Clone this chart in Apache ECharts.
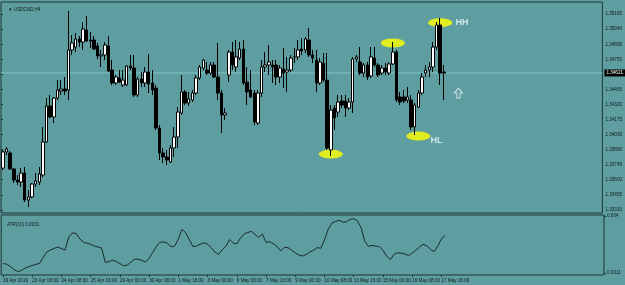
<!DOCTYPE html>
<html><head><meta charset="utf-8">
<script src="https://cdn.jsdelivr.net/npm/echarts@6/dist/echarts.min.js"></script>
<style>html,body{margin:0;padding:0;background:#5f9ea0;}#c{width:625px;height:285px;}</style>
</head><body><div id="c"></div>
<script>
const opens = [1.33711,1.33865,1.33855,1.33702,1.33596,1.33577,1.33663,1.33405,1.33434,1.33558,
1.33577,1.33644,1.33960,1.34305,1.34200,1.34381,1.34448,1.34467,1.34458,1.34841,
1.34869,1.34946,1.34917,1.35032,1.34936,1.34936,1.34879,1.34783,1.34793,1.34879,
1.34649,1.34525,1.34573,1.34506,1.34506,1.34687,1.34668,1.34410,1.34563,1.34525,
1.34630,1.34525,1.34477,1.34094,1.33855,1.33817,1.33769,1.33903,1.34008,1.34238,
1.34439,1.34333,1.34362,1.34429,1.34573,1.34668,1.34649,1.34620,1.34697,1.34582,
1.34429,1.34219,1.34601,1.34821,1.34678,1.34764,1.34850,1.34534,1.34458,1.34429,
1.34142,1.34429,1.34678,1.34697,1.34697,1.34697,1.34582,1.34659,1.34630,1.34649,
1.34774,1.34774,1.34850,1.34841,1.34936,1.34793,1.34745,1.34525,1.34716,1.34553,
1.33884,1.34285,1.34247,1.34353,1.34353,1.34285,1.34343,1.34754,1.34726,1.34620,
1.34697,1.34592,1.34764,1.34697,1.34620,1.34668,1.34620,1.34707,1.34821,1.34391,
1.34391,1.34362,1.34362,1.34104,1.34295,1.34429,1.34620,1.34649,1.34678,1.34869,
1.35080,1.34630];
const closes = [1.33865,1.33893,1.33702,1.33596,1.33577,1.33663,1.33405,1.33434,1.33558,1.33587,
1.33654,1.33960,1.34305,1.34200,1.34381,1.34458,1.34467,1.34448,1.34841,1.34908,
1.34946,1.34917,1.35041,1.34927,1.34927,1.34850,1.34783,1.34793,1.34888,1.34640,
1.34525,1.34582,1.34534,1.34553,1.34687,1.34668,1.34410,1.34563,1.34525,1.34630,
1.34515,1.34458,1.34094,1.33855,1.33817,1.33788,1.33903,1.34008,1.34247,1.34439,
1.34333,1.34372,1.34429,1.34573,1.34678,1.34745,1.34620,1.34697,1.34582,1.34429,
1.34219,1.34238,1.34821,1.34697,1.34774,1.34850,1.34525,1.34439,1.34391,1.34152,
1.34429,1.34678,1.34697,1.34726,1.34678,1.34582,1.34668,1.34620,1.34649,1.34764,
1.34776,1.34841,1.34831,1.34946,1.34793,1.34764,1.34525,1.34726,1.34553,1.33903,
1.34266,1.34190,1.34343,1.34314,1.34285,1.34343,1.34754,1.34774,1.34620,1.34697,
1.34582,1.34774,1.34697,1.34601,1.34668,1.34630,1.34707,1.34821,1.34362,1.34343,
1.34353,1.34391,1.34104,1.34314,1.34429,1.34582,1.34649,1.34678,1.34869,1.35080,
1.34620,1.34621];
const highs = [1.33884,1.33912,1.33874,1.33711,1.33644,1.33711,1.33721,1.33501,1.33568,1.33663,
1.33721,1.34104,1.34381,1.34410,1.34391,1.34553,1.34553,1.34582,1.35214,1.34984,
1.35003,1.34974,1.35108,1.35166,1.35013,1.34974,1.34908,1.34841,1.34917,1.34974,
1.34745,1.34601,1.34649,1.34649,1.34697,1.34793,1.34793,1.34582,1.34630,1.34678,
1.34802,1.34649,1.34506,1.34123,1.33903,1.33884,1.33931,1.34104,1.34295,1.34601,
1.34458,1.34439,1.34458,1.34601,1.34697,1.34754,1.34726,1.34726,1.34726,1.34908,
1.34458,1.34285,1.34841,1.34917,1.34936,1.34917,1.34936,1.34678,1.34649,1.34458,
1.34458,1.34745,1.34821,1.34888,1.34745,1.34745,1.34697,1.34860,1.34774,1.34793,
1.34860,1.34936,1.34955,1.34965,1.35051,1.34841,1.34841,1.34764,1.34812,1.34812,
1.34314,1.34314,1.34410,1.34410,1.34410,1.34381,1.34774,1.34793,1.34869,1.34716,
1.34726,1.34869,1.34869,1.34716,1.34697,1.34716,1.34726,1.34917,1.34841,1.34439,
1.34458,1.34486,1.34410,1.34333,1.34458,1.34620,1.34697,1.34726,1.34917,1.35108,
1.35147,1.34697];
const lows = [1.33692,1.33836,1.33692,1.33568,1.33549,1.33529,1.33386,1.33338,1.33424,1.33529,
1.33549,1.33625,1.33951,1.34190,1.34142,1.34362,1.34410,1.34410,1.34362,1.34793,
1.34821,1.34869,1.34841,1.34917,1.34860,1.34841,1.34754,1.34678,1.34745,1.34630,
1.34506,1.34506,1.34525,1.34486,1.34496,1.34649,1.34391,1.34391,1.34486,1.34486,
1.34429,1.34410,1.34075,1.33788,1.33759,1.33740,1.33759,1.33817,1.33903,1.34219,
1.34314,1.34305,1.34343,1.34410,1.34553,1.34649,1.34601,1.34601,1.34573,1.34362,
1.34046,1.34171,1.34534,1.34649,1.34630,1.34745,1.34506,1.34314,1.34381,1.34123,
1.34123,1.34391,1.34630,1.34601,1.34525,1.34506,1.34525,1.34477,1.34439,1.34630,
1.34716,1.34745,1.34793,1.34812,1.34774,1.34716,1.34439,1.34506,1.34534,1.33884,
1.33826,1.34075,1.34200,1.34285,1.34200,1.34266,1.34238,1.34726,1.34601,1.34582,
1.34553,1.34573,1.34678,1.34582,1.34601,1.34601,1.34601,1.34697,1.34343,1.34314,
1.34333,1.34333,1.34075,1.34027,1.34285,1.34410,1.34582,1.34582,1.34630,1.34841,
1.34506,1.34362];
const atr = [0.00158,0.00155,0.00143,0.00128,0.00117,0.00122,0.00134,0.00142,0.00148,0.00154,
0.00159,0.00189,0.00217,0.00227,0.00235,0.00242,0.00234,0.00227,0.00293,0.00314,
0.00311,0.00284,0.00267,0.00261,0.00257,0.00247,0.00242,0.00236,0.00164,0.00168,
0.00175,0.00168,0.00158,0.00146,0.00150,0.00165,0.00180,0.00180,0.00174,0.00166,
0.00184,0.00215,0.00246,0.00267,0.00268,0.00262,0.00243,0.00247,0.00283,0.00332,
0.00315,0.00280,0.00244,0.00247,0.00257,0.00264,0.00256,0.00239,0.00217,0.00204,
0.00228,0.00245,0.00280,0.00263,0.00258,0.00287,0.00309,0.00316,0.00322,0.00306,
0.00291,0.00308,0.00266,0.00269,0.00259,0.00245,0.00223,0.00240,0.00239,0.00226,
0.00212,0.00202,0.00196,0.00204,0.00217,0.00226,0.00239,0.00236,0.00279,0.00332,
0.00364,0.00372,0.00378,0.00369,0.00370,0.00383,0.00386,0.00376,0.00341,0.00273,
0.00245,0.00250,0.00247,0.00244,0.00225,0.00196,0.00178,0.00204,0.00213,0.00211,
0.00207,0.00199,0.00211,0.00226,0.00242,0.00256,0.00249,0.00230,0.00219,0.00246,
0.00284,0.00301];
const priceTicks = [1.35185,1.35040,1.34895,1.34750,1.34610,1.34465,1.34320,1.34175,1.34030,1.33890,1.33745,1.33600,1.33455,1.33310];
const atrTicks = [0.004,0.0011];
const atrTickText = ['0.004','0.0011'];
const timeLabels = ['19 Apr 2019','23 Apr 08:00','24 Apr 08:00','25 Apr 16:00','29 Apr 00:00','30 Apr 08:00','1 May 16:00','3 May 00:00','6 May 08:00','7 May 16:00','9 May 00:00','10 May 08:00','13 May 16:00','15 May 00:00','16 May 08:00','17 May 16:00'];
const timeLabelIdx = [0,8,16,24,32,40,48,56,64,72,80,88,96,104,112,120];
const slotCount = 165;
const lastPrice = 1.34621;
const atrLast = '0.0031';
const ellipseIdx = [90,107,114,120];
const ellipsePrice = [1.33845,1.34908,1.34017,1.35102];
const noteText = ['HH','HL'];
const noteIdx = [126,119];
const notePrice = [1.35099,1.33979];
const arrowIdx = [125];
const arrowPrice = [1.34429];

const categories = [];
for (let i = 0; i < slotCount; i++) categories.push(String(i));
const labelMap = {};
timeLabelIdx.forEach((k, j) => { labelMap[k] = timeLabels[j]; });
const candleData = opens.map((o, i) => [o, closes[i], lows[i], highs[i]]);
const FONT = 'Liberation Sans, Arial, sans-serif';
const TXT = '#101818';
const FRAME = '#1f3434';
const FS = 4.6;

const chart = echarts.init(document.getElementById('c'), null, {renderer: 'canvas'});
chart.setOption({
  animation: false,
  backgroundColor: '#5f9ea0',
  title: [
    {text: '▼ USDCAD,H4', left: 3, top: 2, textStyle: {fontSize: FS, fontWeight: 'normal', color: TXT, fontFamily: FONT}},
    {text: 'ATR(10) ' + atrLast, left: 2, top: 217, textStyle: {fontSize: FS, fontWeight: 'normal', color: TXT, fontFamily: FONT}}
  ],
  grid: [
    {left: 1, right: 21, top: 2, height: 211, show: true, borderColor: FRAME, borderWidth: 1, backgroundColor: 'transparent'},
    {left: 1, right: 21, top: 215, height: 60, show: true, borderColor: FRAME, borderWidth: 1, backgroundColor: 'transparent'}
  ],
  xAxis: [
    {type: 'category', gridIndex: 0, data: categories, boundaryGap: true, axisLine: {show: false}, axisTick: {show: false}, axisLabel: {show: false}, splitLine: {show: false}},
    {type: 'category', gridIndex: 1, data: categories, boundaryGap: true,
     axisLine: {show: false},
     axisTick: {show: true, length: 2, lineStyle: {color: FRAME}, alignWithLabel: true, interval: (i) => labelMap[i] !== undefined},
     axisLabel: {show: true, interval: (i) => labelMap[i] !== undefined, formatter: (v, i) => labelMap[i] || '', align: 'left', fontSize: FS, color: TXT, fontFamily: FONT, margin: 3},
     splitLine: {show: false}},
    {type: 'value', gridIndex: 0, min: 0, max: 1, show: false}
  ],
  yAxis: [
    {type: 'value', gridIndex: 0, position: 'right', min: 1.33281, max: 1.35300,
     axisLine: {show: false}, splitLine: {show: false},
     axisTick: {show: true, length: 2, customValues: priceTicks, lineStyle: {color: FRAME}},
     axisLabel: {show: true, customValues: priceTicks, formatter: (v) => v.toFixed(5), fontSize: FS, color: TXT, fontFamily: FONT, margin: 3}},
    {type: 'value', gridIndex: 1, position: 'right', min: 0.000998, max: 0.00405,
     axisLine: {show: false}, splitLine: {show: false},
     axisTick: {show: true, length: 2, customValues: atrTicks, lineStyle: {color: FRAME}},
     axisLabel: {show: true, customValues: atrTicks, formatter: (v) => atrTickText[atrTicks.indexOf(v)] || '', fontSize: FS, color: TXT, fontFamily: FONT, margin: 3}}
  ],
  series: [
    {type: 'line', xAxisIndex: 2, yAxisIndex: 0, z: 1, data: [[0, lastPrice], [1, lastPrice]], showSymbol: false, symbol: 'none',
     lineStyle: {color: '#7cc6c6', width: 1}, silent: true,
     endLabel: {show: true, formatter: () => lastPrice.toFixed(5), backgroundColor: '#000', color: '#fff', fontSize: FS, fontFamily: FONT, padding: [1, 2], distance: 2}},
    {type: 'scatter', xAxisIndex: 0, yAxisIndex: 0, z: 1, symbol: 'circle', symbolSize: [24, 9],
     itemStyle: {color: '#ffff00'}, data: ellipseIdx.map((k, j) => [k, ellipsePrice[j]]), silent: true},
    {type: 'candlestick', xAxisIndex: 0, yAxisIndex: 0, z: 2, barWidth: 3, data: candleData,
     itemStyle: {color: '#ffffff', color0: '#000000', borderColor: '#000000', borderColor0: '#000000', borderWidth: 1}},
    {type: 'scatter', xAxisIndex: 0, yAxisIndex: 0, z: 3, symbolSize: 0,
     label: {show: true, position: 'inside', formatter: (p) => noteText[p.dataIndex], color: '#eaf6f6', fontSize: 9, fontWeight: 'bold', fontFamily: FONT},
     data: noteIdx.map((k, j) => [k, notePrice[j]]), silent: true},
    {type: 'scatter', xAxisIndex: 0, yAxisIndex: 0, z: 3, symbol: 'path://M5,0 L10,5 L7,5 L7,10 L3,10 L3,5 L0,5 Z', symbolSize: [8, 10],
     itemStyle: {color: 'rgba(0,0,0,0)', borderColor: '#eaf6f6', borderWidth: 1},
     data: arrowIdx.map((k, j) => [k, arrowPrice[j]]), silent: true},
    {type: 'line', xAxisIndex: 1, yAxisIndex: 1, data: atr, showSymbol: false, symbol: 'none',
     lineStyle: {color: '#1a2a2a', width: 1}, itemStyle: {color: '#1a2a2a'}}
  ]
});
</script>
</body></html>
